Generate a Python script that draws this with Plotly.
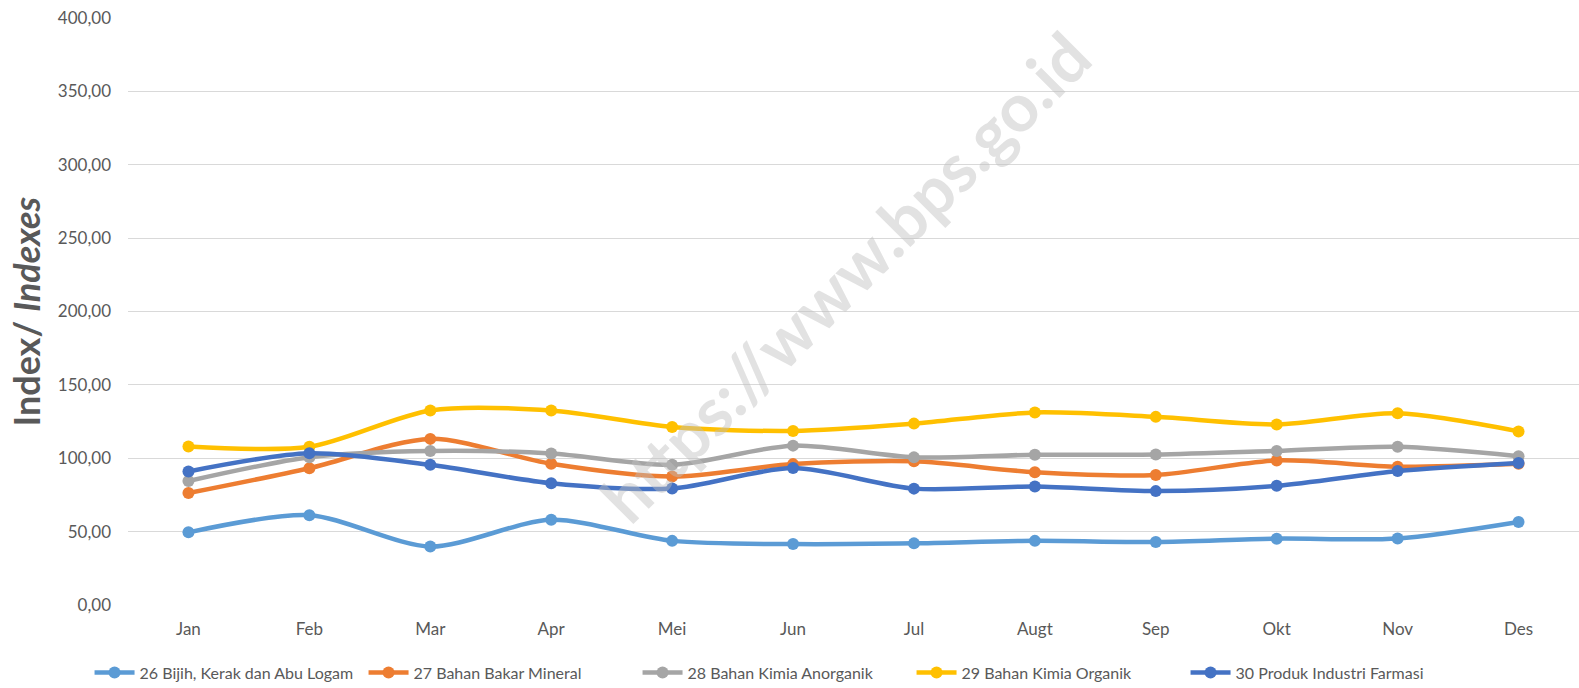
import plotly.graph_objects as go

months = ["Jan", "Feb", "Mar", "Apr", "Mei", "Jun", "Jul", "Augt", "Sep", "Okt", "Nov", "Des"]

s26_name = "26 Bijih, Kerak dan Abu Logam"
s26 = [49.5, 61.2, 39.8, 58.1, 43.7, 41.5, 42.0, 43.7, 42.9, 45.2, 45.3, 56.6]
s27_name = "27 Bahan Bakar Mineral"
s27 = [76.3, 93.2, 113.2, 96.2, 87.5, 96.0, 97.9, 90.5, 88.6, 98.5, 94.2, 96.2]
s28_name = "28 Bahan Kimia Anorganik"
s28 = [84.5, 100.7, 105.0, 103.2, 95.5, 108.6, 100.6, 102.4, 102.5, 105.0, 107.8, 101.4]
s29_name = "29 Bahan Kimia Organik"
s29 = [108.0, 107.8, 132.6, 132.5, 121.3, 118.6, 123.6, 131.2, 128.2, 123.0, 130.6, 118.3]
s30_name = "30 Produk Industri Farmasi"
s30 = [91.0, 103.4, 95.5, 83.0, 79.4, 93.3, 79.3, 80.7, 77.6, 81.2, 91.3, 96.8]

names = [s26_name, s27_name, s28_name, s29_name, s30_name]
series = [s26, s27, s28, s29, s30]
colors = ["#5B9BD5", "#ED7D31", "#A5A5A5", "#FFC000", "#4472C4"]

fig = go.Figure()
for n, v, c in zip(names, series, colors):
    fig.add_trace(go.Scatter(
        x=months, y=v, name=n, mode="lines+markers",
        line=dict(color=c, width=4.5, shape="spline", smoothing=0.8),
        marker=dict(color=c, size=12),
    ))

font_family = "Lato, 'Open Sans', sans-serif"
fig.update_layout(
    width=1579, height=688,
    margin=dict(l=128, r=0, t=18, b=83, autoexpand=False),
    paper_bgcolor="white", plot_bgcolor="white",
    separators=",.",
    font=dict(family=font_family, color="#595959", size=17),
    showlegend=True,
    legend=dict(orientation="h", x=-0.0265, xanchor="left", y=-0.115, yanchor="middle",
                font=dict(size=16, color="#595959"), entrywidth=219,
                itemwidth=40, tracegroupgap=0),
    xaxis=dict(showgrid=False, showline=False, zeroline=False, ticks="", automargin=False,
               range=[-0.5, 11.5],
               ticklabelstandoff=12, tickfont=dict(size=17, color="#595959")),
    yaxis=dict(range=[0, 400], dtick=50, tickformat=".2f", showgrid=True, automargin=False,
               gridcolor="#D9D9D9", gridwidth=1, zeroline=False, showline=False,
               ticklabeloverflow="allow",
               ticks="", ticklabelstandoff=16, tickfont=dict(size=17, color="#595959")),
)

fig.add_annotation(
    text="<b>Index/ <i>Indexes</i></b>", x=-(128 - 25) / 1451, y=0.5,
    xref="paper", yref="paper", showarrow=False, textangle=-90,
    xanchor="center", yanchor="middle",
    font=dict(size=36, color="#595959", family=font_family),
)

fig.add_annotation(
    text="<b>https://www.bps.go.id</b>", x=0.494, y=0.56, xref="paper", yref="paper",
    showarrow=False, textangle=-45,
    font=dict(size=67, color="rgba(190,190,190,0.45)", family=font_family),
)

fig.write_html(
    "out.html",
    config={"displayModeBar": False},
    post_script="document.body.style.margin='0';"
                "document.body.style.overflow='hidden';"
                "document.documentElement.style.overflow='hidden';",
)
